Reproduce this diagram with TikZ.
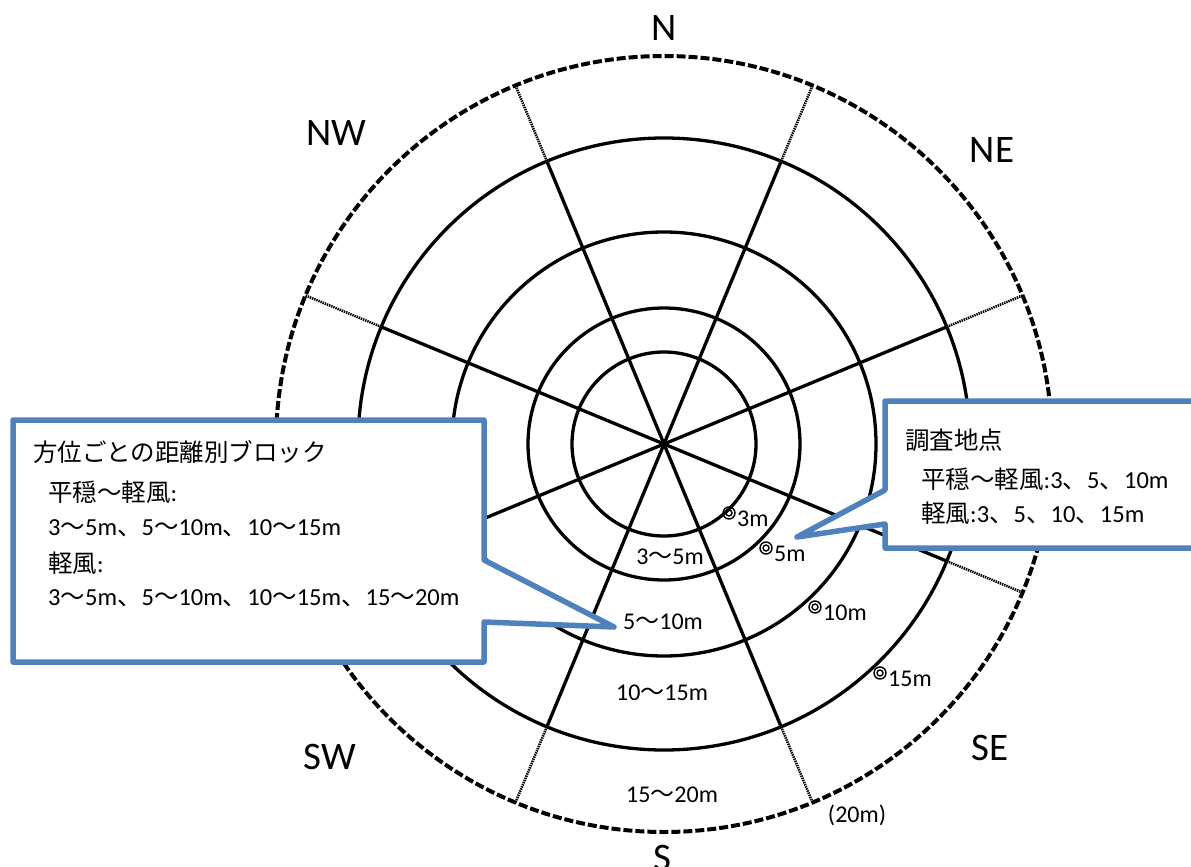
\documentclass[tikz,border=0pt]{standalone}
\usepackage{fontspec}
\setmainfont{Carlito}
\newfontfamily\jpfont{Noto Sans CJK JP}
\newcommand{\jt}[1]{{\jpfont #1}}
\usepackage{xcolor}
\definecolor{calloutblue}{HTML}{4F81BD}
\usepackage{tikz}

\begin{document}
\begin{tikzpicture}[x=1pt, y=-1pt,
    ring/.style={line width=3.3pt},
    outerring/.style={line width=4pt, dash pattern=on 9pt off 3pt},
    spoke/.style={line width=3.3pt},
    spokeend/.style={line width=2.6pt, dash pattern=on 1.4pt off 0.9pt},
    callout/.style={draw=calloutblue, fill=white, line width=5.5pt, line join=round},
    dirlabel/.style={font=\fontsize{39}{39}\selectfont, inner sep=0pt},
    zonelabel/.style={font=\fontsize{24}{24}\selectfont, inner sep=0pt},
    notetext/.style={font=\fontsize{24.5}{24.5}\selectfont, inner sep=0pt, anchor=west}]
   		\useasboundingbox (0,0) rectangle (1191,867);
   		\coordinate (c) at (664,444);
   		
   		% rings and spokes
   		\foreach \r in {92,136,212,306}
   			\draw[ring] (c) circle[radius=\r pt];
   		\draw[outerring] (c) circle[radius=388pt];
   		\foreach \a [count=\i] in {22.5,67.5,...,337.5}{
   			\path (c) ++(\a:306pt) coordinate (in\i)
   			      (c) ++(\a:388pt) coordinate (out\i);
   			\draw[spoke] (c) -- (in\i);
   			\draw[spokeend] (in\i) -- (out\i);
   		}
   		
   		% directions
   		\foreach \x/\y/\name in {
   			664/28/N, 992/150/NE, 336/133/NW, 990/748/SE,
   			330/757/SW, 662/858/S}{
   			\node[dirlabel] (dir\name) at (\x,\y) {\name};
   		}
   		
   		% distance blocks of the S sector
   		\node[zonelabel] (zoneA) at (670,557) {3\jt{～}5m};
   		\node[zonelabel] (zoneB) at (663,622) {5\jt{～}10m};
   		\node[zonelabel] (zoneC) at (662,693) {10\jt{～}15m};
   		\node[zonelabel] (zoneD) at (672,795) {15\jt{～}20m};
   		\node[zonelabel] (zoneEnd) at (857,815) {(20m)};
   		
   		% survey points
   		\foreach \x/\y/\dist in {
   			729/513/3, 766/548/5, 815/607/10, 880/673/15}{
   			\draw[line width=1.4pt] (\x,\y) circle[radius=6pt] circle[radius=3pt];
   			\node[zonelabel, anchor=west] (pt\dist) at (\x+8,\y+6) {\dist m};
   		}
   		
   		% callouts
   		\draw[callout] (13,420) -- (484,420) -- (484,560) -- (614,627)
   			-- (484,622) -- (484,662) -- (13,662) -- cycle;
   		\draw[callout] (885,401) -- (1205,401) -- (1205,548) -- (885,548)
   			-- (885,524) -- (797,537) -- (885,490) -- cycle;
   		
   		\node[notetext] (blockTitle) at (33,452) {\jt{方位ごとの距離別ブロック}};
   		\node[notetext] (blockCalm) at (48,492) {\jt{平穏～軽風}:};
   		\node[notetext] (blockCalmList) at (48,528)
   			{3\jt{～}5m\jt{、}5\jt{～}10m\jt{、}10\jt{～}15m};
   		\node[notetext] (blockBreeze) at (48,563) {\jt{軽風}:};
   		\node[notetext] (blockBreezeList) at (48,598)
   			{3\jt{～}5m\jt{、}5\jt{～}10m\jt{、}10\jt{～}15m\jt{、}15\jt{～}20m};
   		
   		\node[notetext] (siteTitle) at (905,440) {\jt{調査地点}};
   		\node[notetext] (siteCalm) at (921,479)
   			{\jt{平穏～軽風}:3\jt{、}5\jt{、}10m};
   		\node[notetext] (siteBreeze) at (921,513)
   			{\jt{軽風}:3\jt{、}5\jt{、}10\jt{、}15m};
   	\end{tikzpicture}
\end{document}
